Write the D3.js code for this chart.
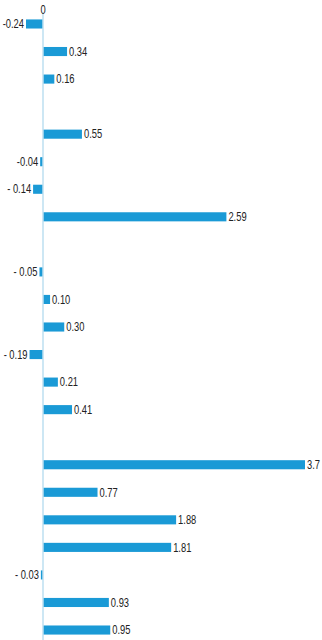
<!DOCTYPE html>
<html>
<head>
<meta charset="utf-8">
<title>Bar chart</title>
<script src="https://cdnjs.cloudflare.com/ajax/libs/d3/7.8.5/d3.min.js"></script>
<style>
body { margin: 0; background: #fff; }
.label { font: 12px "Liberation Sans", Arial, sans-serif; fill: #222; }
</style>
</head>
<body>
<script>
// one entry per row, empty rows are gaps between groups
var rows = ["r1","r2","r3","g1","r4","r5","r6","r7","g2","r8","r9","r10","r11","r12","r13","g3","r14","r15","r16","r17","r18","r19","r20"];
var values = [-0.24, 0.34, 0.16, null, 0.55, -0.04, -0.14, 2.59, null, -0.05, 0.10, 0.30, -0.19, 0.21, 0.41, null, 3.7, 0.77, 1.88, 1.81, -0.03, 0.93, 0.95];
var labels = ["-0.24","0.34","0.16","","0.55","-0.04","- 0.14","2.59","","- 0.05","0.10","0.30","- 0.19","0.21","0.41","","3.7","0.77","1.88","1.81","- 0.03","0.93","0.95"];

var width = 322, height = 640;
var squeeze = 0.78; // narrow look of the label font

var data = rows.map(function(r, i) { return {row: r, value: values[i], label: labels[i]}; })
  .filter(function(d) { return d.value !== null; });

var x = d3.scaleLinear().domain([0, 3.7]).range([43, 305]);
var y = d3.scaleBand().domain(rows).range([10.2, 643.8]).paddingInner(0.67).paddingOuter(0.335);

var svg = d3.select("body").append("svg")
    .attr("width", width)
    .attr("height", height);

svg.selectAll(".bar")
    .data(data)
  .enter().append("rect")
    .attr("class", "bar")
    .attr("x", function(d) { return x(Math.min(0, d.value)); })
    .attr("width", function(d) { return Math.abs(x(d.value) - x(0)); })
    .attr("y", function(d) { return y(d.row); })
    .attr("height", y.bandwidth())
    .style("fill", "#1a9ad6");

// vertical axis line
svg.append("line")
    .attr("x1", x(0)).attr("x2", x(0))
    .attr("y1", 12).attr("y2", height)
    .style("stroke", "#bcdff0")
    .style("stroke-width", 1.5);

svg.append("text")
    .attr("class", "label")
    .attr("transform", "translate(" + x(0) + ",14) scale(" + squeeze + ",1)")
    .style("text-anchor", "middle")
    .text("0");

svg.selectAll(".vlabel")
    .data(data)
  .enter().append("text")
    .attr("class", "label vlabel")
    .attr("transform", function(d) {
      var tx = d.value < 0 ? x(d.value) - 2 : x(d.value) + 2;
      var ty = y(d.row) + y.bandwidth() / 2;
      return "translate(" + tx + "," + ty + ") scale(" + squeeze + ",1)";
    })
    .attr("dy", ".35em")
    .style("text-anchor", function(d) { return d.value < 0 ? "end" : "start"; })
    .text(function(d) { return d.label; });
</script>
</body>
</html>
